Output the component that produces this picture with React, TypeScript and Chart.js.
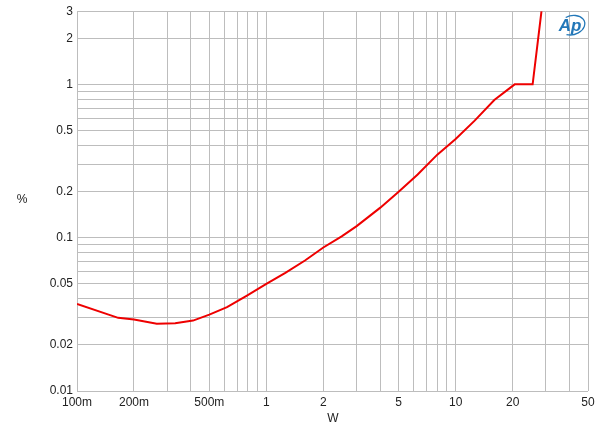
import React, { useEffect, useRef } from 'react';
import { Chart, registerables } from 'chart.js';

Chart.register(...registerables);

// Output power (W) and THD+N (%)
const POWER_W = [0.1, 0.165, 0.2, 0.264, 0.33, 0.41, 0.5, 0.62, 0.79, 1.0, 1.26, 1.6, 2.0, 2.5, 3.0, 4.0, 5.0, 6.3, 8.0, 10, 12.6, 16, 20.5, 25.5, 28.4];
const THD_PCT = [0.037, 0.030, 0.0293, 0.0275, 0.0277, 0.0288, 0.0315, 0.0352, 0.0419, 0.0499, 0.059, 0.071, 0.0863, 0.102, 0.119, 0.157, 0.199, 0.258, 0.348, 0.44, 0.58, 0.79, 1.0, 1.0, 3.0];

const X_GRID = [0.1, 0.2, 0.3, 0.4, 0.5, 0.6, 0.7, 0.8, 0.9, 1, 2, 3, 4, 5, 6, 7, 8, 9, 10, 20, 30, 40, 50];
const X_TICK_VALUES = [0.1, 0.2, 0.5, 1, 2, 5, 10, 20, 50];
const X_TICK_LABELS = ['100m', '200m', '500m', '1', '2', '5', '10', '20', '50'];

const Y_GRID = [0.01, 0.02, 0.03, 0.04, 0.05, 0.06, 0.07, 0.08, 0.09, 0.1, 0.2, 0.3, 0.4, 0.5, 0.6, 0.7, 0.8, 0.9, 1, 2, 3];
const Y_TICK_VALUES = [0.01, 0.02, 0.05, 0.1, 0.2, 0.5, 1, 2, 3];
const Y_TICK_LABELS = ['0.01', '0.02', '0.05', '0.1', '0.2', '0.5', '1', '2', '3'];

const FONT = "'Liberation Sans', Arial, sans-serif";

function labelFor(v: number, values: number[], labels: string[]): string {
  for (let i = 0; i < values.length; i++) {
    if (Math.abs(v - values[i]) / values[i] < 1e-6) return labels[i];
  }
  return '';
}

const decorPlugin = {
  id: 'decor',
  afterDraw(chart: any) {
    const ctx = chart.ctx as CanvasRenderingContext2D;
    const area = chart.chartArea;
    ctx.save();
    ctx.fillStyle = '#222';
    ctx.font = `12px ${FONT}`;
    ctx.textAlign = 'center';
    ctx.textBaseline = 'middle';
    ctx.fillText('%', 22, 200);
    ctx.fillText('W', (area.left + area.right) / 2 + 0.5, 419);
    // AP logo
    const cx = area.right - 17;
    const cy = area.top + 14;
    ctx.strokeStyle = '#2277b8';
    ctx.lineWidth = 1.3;
    ctx.beginPath();
    ctx.ellipse(cx + 1, cy, 13, 9.5, -0.25, -1.9, 2.2);
    ctx.stroke();
    ctx.fillStyle = '#2277b8';
    ctx.font = `italic bold 17px ${FONT}`;
    ctx.fillText('Ap', cx - 1, cy + 1);
    ctx.restore();
  },
};

export default function App() {
  const ref = useRef<HTMLCanvasElement | null>(null);
  useEffect(() => {
    if (!ref.current) return;
    const chart = new Chart(ref.current, {
      type: 'line',
      data: {
        datasets: [
          {
            data: POWER_W.map((x, i) => ({ x, y: THD_PCT[i] })),
            borderColor: '#ee0000',
            borderWidth: 2,
            pointRadius: 0,
            tension: 0,
            fill: false,
          },
        ],
      },
      options: {
        responsive: false,
        animation: false,
        devicePixelRatio: 1,
        layout: { padding: { top: 9, right: 12, left: 0, bottom: 0 } },
        plugins: { legend: { display: false }, tooltip: { enabled: false } },
        scales: {
          x: {
            type: 'logarithmic',
            min: 0.1,
            max: 50,
            afterBuildTicks: (scale: any) => {
              scale.ticks = X_GRID.map((v) => ({ value: v }));
            },
            afterFit: (scale: any) => {
              scale.height = 43;
            },
            grid: { color: '#bdbdbd', lineWidth: 1, drawTicks: false },
            border: { display: false },
            ticks: {
              autoSkip: false,
              maxRotation: 0,
              padding: 4,
              color: '#222',
              font: { family: FONT, size: 12 },
              callback: (v: any) => labelFor(Number(v), X_TICK_VALUES, X_TICK_LABELS),
            },
          },
          y: {
            type: 'logarithmic',
            min: 0.01,
            max: 3,
            afterBuildTicks: (scale: any) => {
              scale.ticks = Y_GRID.map((v) => ({ value: v }));
            },
            afterFit: (scale: any) => {
              scale.width = 77;
            },
            grid: { color: '#bdbdbd', lineWidth: 1, drawTicks: false },
            border: { display: false },
            ticks: {
              autoSkip: false,
              padding: 4,
              color: '#222',
              font: { family: FONT, size: 12 },
              callback: (v: any) => labelFor(Number(v), Y_TICK_VALUES, Y_TICK_LABELS),
            },
          },
        },
      },
      plugins: [decorPlugin],
    } as any);
    return () => chart.destroy();
  }, []);
  return (
    <div style={{ position: 'absolute', left: 0, top: 0, width: 600, height: 434, background: '#fff' }}>
      <canvas ref={ref} width={600} height={434} />
    </div>
  );
}
